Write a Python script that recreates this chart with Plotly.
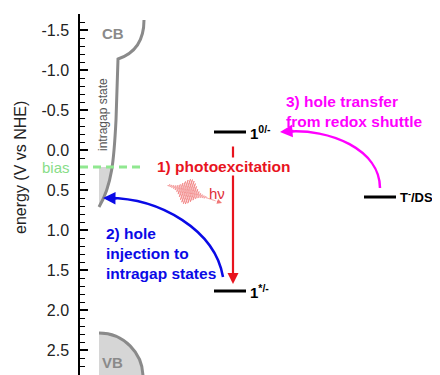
import numpy as np
import plotly.graph_objects as go

# ---- data ----
tick_vals = [-1.5, -1.0, -0.5, 0.0, 0.5, 1.0, 1.5, 2.0, 2.5]
tick_text = ["-1.5", "-1.0", "-0.5", "0.0", "0.5", "1.0", "1.5", "2.0", "2.5"]
level_names = ["<b>1<sup>0/-</sup></b>", "<b>1<sup>*/-</sup></b>", "<b>T<sup>-</sup>/DS</b>"]
level_energy = [-0.225, 1.7625, 0.5875]   # V vs NHE
level_x0 = [214, 214, 364]
level_x1 = [246, 246, 396]
level_font = [15, 15, 13]
bias_energy = 0.2125

FONT = "Arial, Liberation Sans, sans-serif"
GRAY = "#8a8a8a"
RED = "#e8141e"
BLUE = "#0a0ae6"
MAG = "#ff00ff"
TS = 15.5

fig = go.Figure()
fig.add_trace(go.Scatter(x=[None], y=[None], showlegend=False))

shapes = []
ann = []

# CB + intragap curve
shapes.append(dict(type="path", xref="x", yref="y",
    path="M 99 0.2125 L 112 0.2125 Q 110 0.55 99 0.7125 Z",
    fillcolor="#d6d6d6", line=dict(width=0), layer="below"))
shapes.append(dict(type="path", xref="x", yref="y",
    path="M 144 -1.625 C 144 -1.3125 130 -1.1875 118 -1.1375 L 116 -0.375 C 114 0.125 112 0.4375 99 0.7125",
    line=dict(color=GRAY, width=3)))
# VB
shapes.append(dict(type="path", xref="x", yref="y",
    path="M 99 2.2875 C 123.3 2.2875 143 2.53375 143 2.8375 L 99 2.8375 Z",
    fillcolor="#d6d6d6", line=dict(width=0)))
shapes.append(dict(type="path", xref="x", yref="y",
    path="M 99 2.2875 C 123.3 2.2875 143 2.53375 143 2.8375",
    line=dict(color=GRAY, width=3)))
# bias line
shapes.append(dict(type="line", xref="x", yref="y", x0=80, x1=143, y0=bias_energy, y1=bias_energy,
    line=dict(color="#90e890", width=3, dash="8px,5px")))
# energy levels
for nm, e, a, b, fs in zip(level_names, level_energy, level_x0, level_x1, level_font):
    shapes.append(dict(type="line", xref="x", yref="y", x0=a, x1=b, y0=e, y1=e,
                       line=dict(color="black", width=3)))
    ann.append(dict(x=b + 2, y=e, text=nm, showarrow=False, xanchor="left", yanchor="middle",
                    font=dict(family=FONT, size=fs, color="black")))

# curved arrows
shapes.append(dict(type="path", xref="x", yref="y",
    path="M 108 0.6 C 160 0.6 215 1.0 223 1.5875", line=dict(color=BLUE, width=2.5)))
shapes.append(dict(type="path", xref="x", yref="y",
    path="M 286 -0.228 C 330 -0.275 380 0 380 0.475", line=dict(color=MAG, width=2.5)))

# photon wave packet (decorative glyph)
s = np.linspace(0, 50, 500)
ux, uy = 0.949, 0.316
amp = 12 * np.exp(-((s - 21) / 8.5) ** 2) + 1.0 * (s < 40)
wv = amp * np.sin(2 * np.pi * s / 2.0)
px = 168 + s * ux - 0.316 * wv
py = 185 + s * uy + 0.949 * wv
pathw = "M " + " L ".join(f"{a:.2f} {(b - 150) / 80:.4f}" for a, b in zip(px, py))
shapes.append(dict(type="path", xref="x", yref="y", path=pathw,
                   line=dict(color="#f07878", width=0.8)))
ann.append(dict(x=222, y=(203 - 150) / 80, ax=px[-1], ay=(py[-1] - 150) / 80, axref="x", ayref="y",
                text="", showarrow=True, arrowhead=2, arrowsize=1, arrowwidth=1, arrowcolor="#f07878"))

# red straight arrow
ann.append(dict(x=233, y=1.675, ax=233, ay=-0.0625, axref="x", ayref="y", text="",
                showarrow=True, arrowhead=2, arrowsize=1, arrowwidth=2.2, arrowcolor=RED))
# blue arrowhead
ann.append(dict(x=103, y=0.6, ax=118, ay=0.602, axref="x", ayref="y", text="",
                showarrow=True, arrowhead=2, arrowsize=1, arrowwidth=2.5, arrowcolor=BLUE))
# magenta arrowhead
ann.append(dict(x=280, y=-0.225, ax=295, ay=-0.24, axref="x", ayref="y", text="",
                showarrow=True, arrowhead=2, arrowsize=1, arrowwidth=2.5, arrowcolor=MAG))

# texts
ann.append(dict(x=156, y=0.2, text="<b>1) photoexcitation</b>", showarrow=False, xanchor="left",
                yanchor="middle", bgcolor="white", borderpad=0,
                font=dict(family=FONT, size=TS, color=RED)))
ann.append(dict(x=217, y=(193 - 150) / 80, text="hν", showarrow=False,
                font=dict(family=FONT, size=15, color="#e0303a")))
ann.append(dict(x=104, y=1.2875, text="<b>2) hole<br>injection to<br>intragap states</b>", showarrow=False,
                xanchor="left", yanchor="middle", align="left",
                font=dict(family=FONT, size=TS, color=BLUE)))
ann.append(dict(x=284, y=-0.4875, text="<b>3) hole transfer<br>from redox shuttle</b>", showarrow=False,
                xanchor="left", yanchor="middle", align="left",
                font=dict(family=FONT, size=TS, color=MAG)))
ann.append(dict(x=113, y=-1.4625, text="<b>CB</b>", showarrow=False,
                font=dict(family=FONT, size=15, color=GRAY)))
ann.append(dict(x=112, y=2.65, text="<b>VB</b>", showarrow=False,
                font=dict(family=FONT, size=15, color=GRAY)))
ann.append(dict(x=103, y=-0.4375, text="intragap state", showarrow=False, textangle=-90,
                font=dict(family=FONT, size=12, color="#555555")))
# labels left of the axis (paper x: plot area spans page px 80..440)
ann.append(dict(xref="paper", x=(72 - 80) / 360, y=bias_energy, text="bias", showarrow=False,
                xanchor="right", font=dict(family=FONT, size=15, color="#88dd88")))
ann.append(dict(xref="paper", x=(20 - 80) / 360, y=(168 - 150) / 80, text="energy (V vs NHE)",
                showarrow=False, textangle=-90, xanchor="center",
                font=dict(family=FONT, size=16, color="#222222")))

# page body has an 8px margin; size the figure so the plot lands at page px (80..440, 14..375)
fig.update_layout(
    width=432, height=367,
    margin=dict(l=72, r=0, t=6, b=0),
    plot_bgcolor="white", paper_bgcolor="white",
    showlegend=False,
    shapes=shapes, annotations=ann,
    xaxis=dict(visible=False, range=[80, 440], fixedrange=True),
    yaxis=dict(range=[2.8125, -1.7], tickvals=tick_vals, ticktext=tick_text,
               showline=True, linecolor="black", linewidth=1.5, ticks="inside", ticklen=8,
               tickcolor="black", tickwidth=1.5, showgrid=False, zeroline=False,
               ticklabelstandoff=6,
               tickfont=dict(family=FONT, size=16, color="#222222"),
               minor=dict(dtick=0.1, tick0=0, ticks="inside", ticklen=5, tickcolor="black",
                          tickwidth=1, showgrid=False)),
)

fig.write_html("out.html")
